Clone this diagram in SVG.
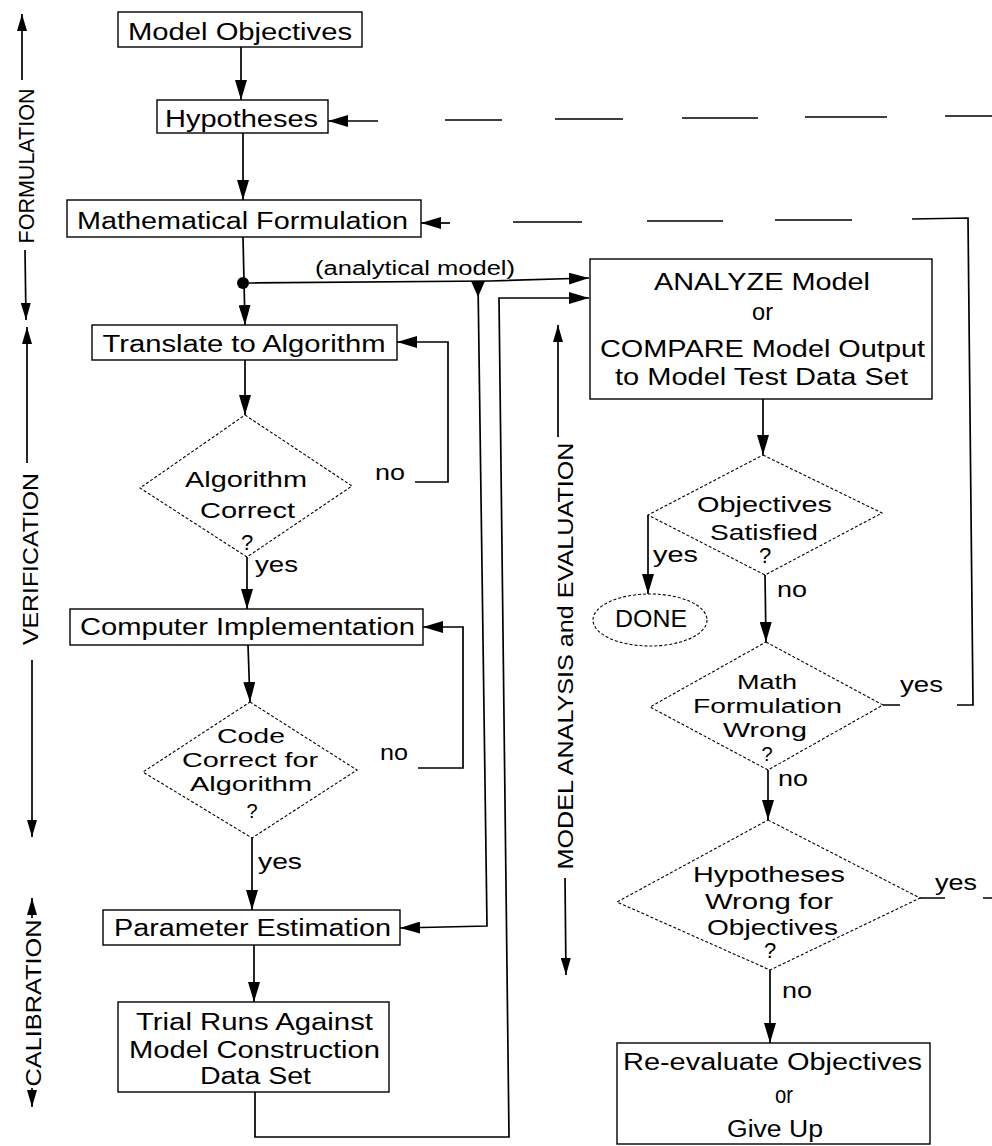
<svg xmlns="http://www.w3.org/2000/svg" width="992" height="1146" viewBox="0 0 992 1146">
<style>
  text { font-family: "Liberation Sans", Arial, Helvetica, sans-serif; fill: #000; }
  .t { font-size: 23px; text-anchor: middle; }
  .d { font-size: 22px; text-anchor: middle; }
  .d2 { font-size: 20px; text-anchor: middle; }
  .a { font-size: 20px; text-anchor: middle; }
  .ax { font-size: 22px; text-anchor: middle; }
  .box { fill: none; stroke: #000; stroke-width: 1.4; }
  .dia { fill: none; stroke: #000; stroke-width: 1.1; stroke-dasharray: 3 2; }
  .ln { fill: none; stroke: #000; stroke-width: 1.7; }
  .arr { marker-end: url(#ah); }
  .axa { marker-end: url(#ahs); }
</style>
<defs>
  <marker id="ah" viewBox="0 0 20 12" refX="20" refY="6" markerWidth="20" markerHeight="12" orient="auto" markerUnits="userSpaceOnUse">
    <path d="M0,0 L20,6 L0,12 Z" fill="#000"/>
  </marker>
  <marker id="ahs" viewBox="0 0 17 10" refX="17" refY="5" markerWidth="17" markerHeight="10" orient="auto" markerUnits="userSpaceOnUse">
    <path d="M0,0 L17,5 L0,10 Z" fill="#000"/>
  </marker>
</defs>
<rect width="992" height="1146" fill="#fff"/>

<!-- phase axes -->
<g id="axes">
  <path class="ln axa" d="M22,80 L22,14"/>
  <path class="ln axa" d="M25,250 L26,320"/>
  <text class="ax" transform="translate(34,166) rotate(-90)" textLength="155" lengthAdjust="spacingAndGlyphs">FORMULATION</text>

  <path class="ln axa" d="M27,463 L27,327"/>
  <path class="ln axa" d="M32,660 L32,837"/>
  <text class="ax" transform="translate(38,559) rotate(-90)" textLength="172" lengthAdjust="spacingAndGlyphs">VERIFICATION</text>

  <path class="ln axa" d="M32,918 L32,898"/>
  <path class="ln axa" d="M32,1088 L32,1107"/>
  <text class="ax" transform="translate(41,1003) rotate(-90)" textLength="167" lengthAdjust="spacingAndGlyphs">CALIBRATION</text>

  <path class="ln axa" d="M558,437 L558,325"/>
  <path class="ln axa" d="M565,878 L566,975"/>
  <text class="ax" transform="translate(573,656) rotate(-90)" textLength="427" lengthAdjust="spacingAndGlyphs">MODEL ANALYSIS and EVALUATION</text>
</g>

<!-- connectors -->
<g id="connectors">
  <path class="ln arr" d="M241,47 L241,100"/>
  <path class="ln arr" d="M243,133 L243,200"/>
  <path class="ln arr" d="M243,237 L245,325"/>
  <circle cx="243" cy="283" r="6" fill="#000"/>
  <path class="ln arr" d="M245,360 L245,415"/>
  <path class="ln arr" d="M247,557 L247,609"/>
  <path class="ln arr" d="M415,482 L448,482 L448,342 L397,342"/>
  <path class="ln arr" d="M248,645 L250,702"/>
  <path class="ln arr" d="M418,768 L463,768 L463,627 L423,627"/>
  <path class="ln arr" d="M252,838 L252,910"/>
  <path class="ln arr" d="M254,945 L254,1002"/>
  <path class="ln arr" d="M255,1092 L255,1137 L509,1137 L499,298 L589,298"/>
  <!-- analytical model branch -->
  <path class="ln arr" d="M249,283 L490,281 L589,278"/>
  <polygon points="471,281 485,281 478,297" fill="#000"/>
  <path class="ln arr" d="M478,281 L487,926 L400,928"/>
  <!-- right column -->
  <path class="ln arr" d="M763,399 L763,455"/>
  <path class="ln arr" d="M648,515 L648,594"/>
  <path class="ln arr" d="M765,575 L766,642"/>
  <path class="ln arr" d="M768,770 L768,820"/>
  <path class="ln arr" d="M770,970 L770,1043"/>
  <!-- Math Formulation Wrong: yes -> Mathematical Formulation -->
  <path class="ln" d="M883,705 L900,705 M957,705 L973,705 L968,218 L912,219 M852,220 L775,220 M723,221 L647,221 M582,222 L513,222"/>
  <path class="ln arr" d="M450,223 L421,223"/>
  <!-- Hypotheses Wrong: yes -> Hypotheses -->
  <path class="ln" d="M920,898 L945,898 M983,898 L992,898"/>
  <path class="ln" d="M992,116 L945,116 M887,117 L805,117 M758,118 L682,118 M623,119 L555,119 M502,120 L445,120"/>
  <path class="ln arr" d="M378,121 L328,121"/>
</g>

<!-- nodes -->
<g id="model-objectives">
  <rect class="box" x="118" y="12" width="244" height="35"/>
  <text class="t" x="240" y="40" textLength="224" lengthAdjust="spacingAndGlyphs">Model Objectives</text>
</g>
<g id="hypotheses">
  <rect class="box" x="157" y="100" width="171" height="33"/>
  <text class="t" x="241.5" y="127" textLength="153" lengthAdjust="spacingAndGlyphs">Hypotheses</text>
</g>
<g id="math-formulation">
  <rect class="box" x="67" y="200" width="354" height="37"/>
  <text class="t" x="242.5" y="229" textLength="331" lengthAdjust="spacingAndGlyphs">Mathematical Formulation</text>
</g>
<g id="analytical-label">
  <text class="a" x="415" y="275" textLength="200" lengthAdjust="spacingAndGlyphs">(analytical model)</text>
</g>
<g id="translate">
  <rect class="box" x="92" y="325" width="305" height="35"/>
  <text class="t" x="244" y="352" textLength="283" lengthAdjust="spacingAndGlyphs">Translate to Algorithm</text>
</g>
<g id="algorithm-correct">
  <polygon class="dia" points="245,415 352,486 247,557 140,488"/>
  <text class="d" x="246" y="487" textLength="122" lengthAdjust="spacingAndGlyphs">Algorithm</text>
  <text class="d" x="247.5" y="518" textLength="95" lengthAdjust="spacingAndGlyphs">Correct</text>
  <text class="d" x="247" y="550">?</text>
  <text class="d" x="390" y="480" textLength="30" lengthAdjust="spacingAndGlyphs">no</text>
  <text class="d" x="276.5" y="572" textLength="43" lengthAdjust="spacingAndGlyphs">yes</text>
</g>
<g id="computer-implementation">
  <rect class="box" x="70" y="609" width="353" height="36"/>
  <text class="t" x="247.5" y="635" textLength="335" lengthAdjust="spacingAndGlyphs">Computer Implementation</text>
</g>
<g id="code-correct">
  <polygon class="dia" points="250,702 357,770 252,838 143,772"/>
  <text class="d2" x="251" y="743" textLength="68" lengthAdjust="spacingAndGlyphs">Code</text>
  <text class="d2" x="250" y="767" textLength="136" lengthAdjust="spacingAndGlyphs">Correct for</text>
  <text class="d2" x="251" y="791" textLength="122" lengthAdjust="spacingAndGlyphs">Algorithm</text>
  <text class="d2" x="252" y="818">?</text>
  <text class="d" x="394" y="760" textLength="28" lengthAdjust="spacingAndGlyphs">no</text>
  <text class="d" x="280" y="869" textLength="44" lengthAdjust="spacingAndGlyphs">yes</text>
</g>
<g id="parameter-estimation">
  <rect class="box" x="103" y="910" width="297" height="35"/>
  <text class="t" x="252.5" y="936" textLength="277" lengthAdjust="spacingAndGlyphs">Parameter Estimation</text>
</g>
<g id="trial-runs">
  <rect class="box" x="118" y="1002" width="271" height="90"/>
  <text class="t" x="254.5" y="1030" textLength="237" lengthAdjust="spacingAndGlyphs">Trial Runs Against</text>
  <text class="t" x="254.5" y="1058" textLength="251" lengthAdjust="spacingAndGlyphs">Model Construction</text>
  <text class="t" x="255.5" y="1084" textLength="111" lengthAdjust="spacingAndGlyphs">Data Set</text>
</g>
<g id="analyze">
  <rect class="box" x="590" y="259" width="342" height="140"/>
  <text class="t" x="762" y="290" textLength="216" lengthAdjust="spacingAndGlyphs">ANALYZE Model</text>
  <text class="t" x="762.5" y="320" textLength="21" lengthAdjust="spacingAndGlyphs">or</text>
  <text class="t" x="762.5" y="357" textLength="325" lengthAdjust="spacingAndGlyphs">COMPARE Model Output</text>
  <text class="t" x="761.5" y="385" textLength="293" lengthAdjust="spacingAndGlyphs">to Model Test Data Set</text>
</g>
<g id="objectives-satisfied">
  <polygon class="dia" points="763,455 882,513 765,575 648,515"/>
  <text class="d" x="764.5" y="512" textLength="135" lengthAdjust="spacingAndGlyphs">Objectives</text>
  <text class="d" x="764" y="540" textLength="108" lengthAdjust="spacingAndGlyphs">Satisfied</text>
  <text class="d" x="765" y="563">?</text>
  <text class="d" x="675.5" y="562" textLength="45" lengthAdjust="spacingAndGlyphs">yes</text>
  <text class="d" x="792" y="597" textLength="30" lengthAdjust="spacingAndGlyphs">no</text>
</g>
<g id="done">
  <ellipse class="dia" cx="650" cy="620" rx="57" ry="26"/>
  <text class="t" x="651" y="627" textLength="72" lengthAdjust="spacingAndGlyphs">DONE</text>
</g>
<g id="math-wrong">
  <polygon class="dia" points="766,642 883,705 768,770 650,707"/>
  <text class="d2" x="767" y="689" textLength="60" lengthAdjust="spacingAndGlyphs">Math</text>
  <text class="d2" x="767.5" y="713" textLength="149" lengthAdjust="spacingAndGlyphs">Formulation</text>
  <text class="d2" x="765" y="737" textLength="84" lengthAdjust="spacingAndGlyphs">Wrong</text>
  <text class="d2" x="767" y="761">?</text>
  <text class="d" x="921.5" y="692" textLength="43" lengthAdjust="spacingAndGlyphs">yes</text>
  <text class="d" x="793" y="786" textLength="30" lengthAdjust="spacingAndGlyphs">no</text>
</g>
<g id="hypotheses-wrong">
  <polygon class="dia" points="768,820 920,898 770,970 617,902"/>
  <text class="d" x="769" y="882" textLength="152" lengthAdjust="spacingAndGlyphs">Hypotheses</text>
  <text class="d" x="769" y="909" textLength="128" lengthAdjust="spacingAndGlyphs">Wrong for</text>
  <text class="d" x="772.5" y="935" textLength="131" lengthAdjust="spacingAndGlyphs">Objectives</text>
  <text class="d" x="770" y="958">?</text>
  <text class="d" x="956" y="890" textLength="42" lengthAdjust="spacingAndGlyphs">yes</text>
  <text class="d" x="797" y="998" textLength="30" lengthAdjust="spacingAndGlyphs">no</text>
</g>
<g id="reevaluate">
  <rect class="box" x="617" y="1043" width="313" height="101"/>
  <text class="t" x="772.5" y="1070" textLength="299" lengthAdjust="spacingAndGlyphs">Re-evaluate Objectives</text>
  <text class="t" x="784" y="1103" textLength="18" lengthAdjust="spacingAndGlyphs">or</text>
  <text class="t" x="775" y="1137" textLength="96" lengthAdjust="spacingAndGlyphs">Give Up</text>
</g>
</svg>
